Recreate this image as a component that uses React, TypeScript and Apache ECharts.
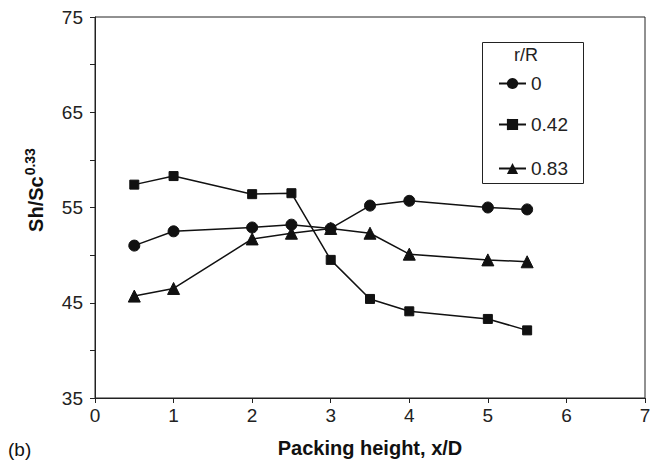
import React, { useEffect, useRef } from "react";
import * as echarts from "echarts";

const xValues = [0.5, 1, 2, 2.5, 3, 3.5, 4, 5, 5.5];
const seriesNames = ["0", "0.42", "0.83"];
const r0 = [51.0, 52.5, 52.9, 53.2, 52.8, 55.2, 55.7, 55.0, 54.8];
const r042 = [57.4, 58.3, 56.4, 56.5, 49.5, 45.4, 44.1, 43.3, 42.1];
const r083 = [45.7, 46.5, 51.7, 52.3, 52.8, 52.3, 50.1, 49.5, 49.3];
const symbols = ["circle", "rect", "triangle"];
const symbolSizes = [11, 9, 12];
const legendTops = [69, 110, 154];

export default function App() {
  const ref = useRef<HTMLDivElement>(null);
  useEffect(() => {
    const chart = echarts.init(ref.current!, null, { renderer: "svg" });
    const data = [r0, r042, r083];
    const font = "Liberation Sans, Arial, sans-serif";
    chart.setOption({
      animation: false,
      textStyle: { fontFamily: font },
      grid: {
        left: 95,
        right: 11,
        top: 17,
        bottom: 63,
        show: true,
        borderColor: "#222",
        borderWidth: 1,
      },
      xAxis: {
        type: "value",
        min: 0,
        max: 7,
        interval: 1,
        axisLine: { lineStyle: { color: "#222", width: 1 } },
        axisTick: { inside: false, length: 5, lineStyle: { color: "#222" } },
        axisLabel: { fontSize: 19, color: "#222", margin: 8, fontFamily: font },
        splitLine: { show: false },
      },
      yAxis: {
        type: "value",
        min: 35,
        max: 75,
        interval: 5,
        axisLine: { show: true, lineStyle: { color: "#222", width: 1 } },
        axisTick: { inside: false, length: 5, lineStyle: { color: "#222" } },
        axisLabel: {
          fontSize: 19,
          color: "#222",
          margin: 12,
          fontFamily: font,
          formatter: (v: number) => ((v - 35) % 10 === 0 ? String(v) : ""),
        },
        splitLine: { show: false },
      },
      legend: seriesNames.map((name, i) => ({
        orient: "vertical",
        left: 493,
        top: legendTops[i],
        itemWidth: 27,
        itemHeight: 14,
        itemGap: 6,
        textStyle: { fontSize: 19, color: "#222", fontFamily: font },
        data: [name],
        selectedMode: false,
      })),
      graphic: [
        {
          type: "rect",
          left: 480,
          top: 40,
          shape: { width: 101, height: 141 },
          style: { fill: "none", stroke: "#222", lineWidth: 1 },
          z: 10,
        },
        {
          type: "text",
          x: 526,
          y: 55,
          style: {
            text: "r/R",
            fontSize: 18,
            fill: "#222",
            fontFamily: font,
            align: "center",
            verticalAlign: "middle",
          },
        },
        {
          type: "text",
          x: 34,
          y: 190,
          rotation: Math.PI / 2,
          style: {
            text: "{b|Sh/Sc}{s|0.33}",
            fontFamily: font,
            fill: "#111",
            align: "center",
            verticalAlign: "middle",
            rich: {
              b: { fontSize: 20, fontWeight: "bold", fill: "#111", fontFamily: font, verticalAlign: "bottom" },
              s: { fontSize: 14, fontWeight: "bold", fill: "#111", fontFamily: font, verticalAlign: "top", padding: [0, 0, 9, 1] },
            },
          },
        },
        {
          type: "text",
          x: 370,
          y: 448,
          style: {
            text: "Packing height, x/D",
            fontSize: 20,
            fontWeight: "bold",
            fill: "#111",
            fontFamily: font,
            align: "center",
            verticalAlign: "middle",
          },
        },
        {
          type: "text",
          x: 8,
          y: 449,
          style: {
            text: "(b)",
            fontSize: 19,
            fill: "#111",
            fontFamily: font,
            align: "left",
            verticalAlign: "middle",
          },
        },
      ],
      series: seriesNames.map((name, i) => ({
        name,
        type: "line",
        data: xValues.map((x, j) => [x, data[i][j]]),
        symbol: symbols[i],
        symbolSize: symbolSizes[i],
        showAllSymbol: true,
        lineStyle: { color: "#111", width: 1.5 },
        itemStyle: { color: "#111", borderColor: "#111" },
        z: 3,
      })),
    });
    return () => chart.dispose();
  }, []);
  return (
    <div
      ref={ref}
      style={{ width: 656, height: 461, position: "absolute", left: 0, top: 0 }}
    />
  );
}
